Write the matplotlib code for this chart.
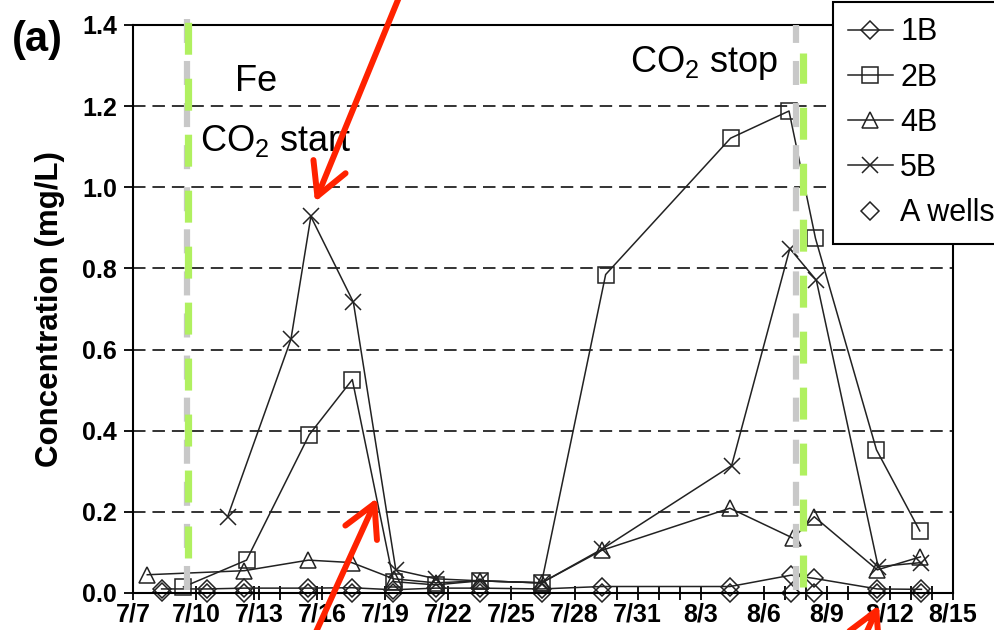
import matplotlib
matplotlib.use("Agg")
import matplotlib.pyplot as plt
from matplotlib.ticker import FormatStrFormatter

plt.rcParams['font.family'] = ['Liberation Sans', 'DejaVu Sans']
plt.rcParams['mathtext.fontset'] = 'custom'
plt.rcParams['mathtext.rm'] = 'Liberation Sans'
plt.rcParams['lines.scale_dashes'] = False

# sampling times as days after 7/7, Fe in mg/L
days_1b = [1.36, 3.53, 5.28, 8.34, 10.4, 12.38, 14.4, 16.5, 19.43, 22.29, 28.4, 31.3, 32.4, 35.4, 37.5]
conc_1b = [0.010, 0.010, 0.012, 0.012, 0.013, 0.008, 0.012, 0.012, 0.010, 0.016, 0.016, 0.044, 0.036, 0.010, 0.009]

days_2b = [2.4, 5.4, 8.38, 10.43, 12.4, 14.4, 16.5, 19.43, 22.48, 28.42, 31.2, 32.46, 35.36, 37.42]
conc_2b = [0.015, 0.081, 0.390, 0.526, 0.028, 0.020, 0.030, 0.025, 0.785, 1.121, 1.188, 0.874, 0.353, 0.153]

days_4b = [0.68, 5.3, 8.34, 10.4, 12.4, 14.4, 16.5, 19.43, 22.29, 28.39, 31.4, 32.4, 35.4, 37.45]
conc_4b = [0.045, 0.055, 0.081, 0.075, 0.035, 0.025, 0.030, 0.025, 0.105, 0.209, 0.135, 0.188, 0.057, 0.089]

days_5b = [4.5, 7.51, 8.46, 10.48, 12.5, 14.4, 16.5, 19.43, 22.3, 28.47, 31.24, 32.5, 35.44, 37.5]
conc_5b = [0.188, 0.625, 0.928, 0.717, 0.057, 0.035, 0.030, 0.025, 0.108, 0.314, 0.849, 0.771, 0.065, 0.075]

days_a = [1.36, 3.53, 5.28, 8.34, 10.4, 12.38, 14.4, 16.5, 19.43, 22.29, 28.4, 31.3, 32.4, 35.4, 37.5]
conc_a = [0.003, 0.0, 0.0, 0.0, 0.0, 0.0, 0.0, 0.0, 0.0, 0.0, 0.0, 0.0, 0.0, 0.0, 0.0]

tick_days = [0, 3, 6, 9, 12, 15, 18, 21, 24, 27, 30, 33, 36, 39]
tick_labels = ['7/7', '7/10', '7/13', '7/16', '7/19', '7/22', '7/25', '7/28',
               '7/31', '8/3', '8/6', '8/9', '8/12', '8/15']
minor_days = [5.75, 7, 8.75, 23, 25, 26, 31, 32, 34, 37, 38]
y_ticks = [0.0, 0.2, 0.4, 0.6, 0.8, 1.0, 1.2, 1.4]

co2_start = 2.6
co2_stop = 31.86

W, H = 995, 630
fig = plt.figure(figsize=(W / 100, H / 100), dpi=100)
ax = fig.add_axes([133 / W, 1 - 593 / H, 820 / W, 568 / H])

ink = '#222222'
common = dict(color=ink, lw=1.1, mfc='none', mec=ink, mew=1.1, clip_on=False)
ax.plot(days_1b, conc_1b, marker='D', ms=9, label='1B', **common)
ax.plot(days_2b, conc_2b, marker='s', ms=12, label='2B', **common)
ax.plot(days_4b, conc_4b, marker='^', ms=11, label='4B', **common)
ax.plot(days_5b, conc_5b, marker='x', ms=12, label='5B', **common)
ax.plot(days_a, conc_a, marker='D', ms=9, ls='none', label='A wells',
        mfc='none', mec=ink, mew=1.1, clip_on=False)

# CO2 start / stop markers: grey and green dashed lines laid over each other
ax.axvline(co2_start - 0.05, ymin=0.005, ymax=1.01, color='#c8c8c8', lw=4.5,
           ls=(0, (17.3, 13)), clip_on=False, zorder=4)
ax.axvline(co2_start, ymin=0.02, ymax=1.01, color='#b0f060', lw=5.2,
           ls=(23, (23, 17.3)), clip_on=False, zorder=4.1)
ax.axvline(co2_stop - 0.33, ymin=0.005, ymax=1.0, color='#c8c8c8', lw=4.5,
           ls=(0, (17.3, 13)), clip_on=False, zorder=4)
ax.axvline(co2_stop, ymin=0.01, ymax=0.95, color='#b0f060', lw=5.2,
           ls=(0, (23, 17.3)), clip_on=False, zorder=4.1)

ax.set_xlim(0, 39)
ax.set_ylim(0, 1.4)
ax.set_xticks(tick_days)
ax.set_xticklabels(tick_labels)
ax.set_xticks(minor_days, minor=True)
ax.set_yticks(y_ticks)
ax.yaxis.set_major_formatter(FormatStrFormatter('%.1f'))
ax.tick_params(axis='x', which='both', direction='inout', length=10, width=1.3,
               pad=2, labelsize=18)
ax.tick_params(axis='y', direction='out', length=6.5, width=1.3, pad=5, labelsize=18)
for lbl in ax.get_xticklabels() + ax.get_yticklabels():
    lbl.set_fontweight('bold')

ax.set_axisbelow(True)
ax.yaxis.grid(True, ls=(0, (9, 5)), color='#333333', lw=1.4)
for sp in ax.spines.values():
    sp.set_linewidth(1.5)

ax.set_ylabel('Concentration (mg/L)', fontsize=22.5, fontweight='bold')
ax.yaxis.set_label_coords(-0.083, 0.5)

ax.text(4.85, 1.237, 'Fe', fontsize=26)
ax.text(3.19, 1.089, r'CO$_\mathregular{2}$ start', fontsize=26)
ax.text(23.63, 1.284, r'CO$_\mathregular{2}$ stop', fontsize=26)
fig.text(12 / W, 1 - 40 / H, '(a)', fontsize=30, fontweight='bold', va='center')

handles, labels = ax.get_legend_handles_labels()
leg = fig.legend(handles, labels, loc='upper left', bbox_to_anchor=(833 / W, 1 - 2 / H),
                 fontsize=22, fancybox=False, edgecolor='black', framealpha=1,
                 borderpad=0.5, labelspacing=0.5, handlelength=1.45,
                 handletextpad=0.25, borderaxespad=0)
leg.get_frame().set_linewidth(1.5)

# red arrows drawn on top of the chart (figure pixels, origin bottom left)
red = dict(arrowstyle='->, head_length=2.3, head_width=1.25', color='#ff2200',
           lw=4.3, mutation_scale=10, shrinkA=0, shrinkB=0)
arrows = [((315, 202), (402, -10)), ((377, 498), (300, 667)), ((879, 605), (849, 671))]
for tip, tail in arrows:
    ax.annotate('', xy=(tip[0], H - tip[1]), xycoords='figure pixels',
                xytext=(tail[0], H - tail[1]), textcoords='figure pixels',
                arrowprops=red, annotation_clip=False)

fig.savefig('out.png', dpi=100)
